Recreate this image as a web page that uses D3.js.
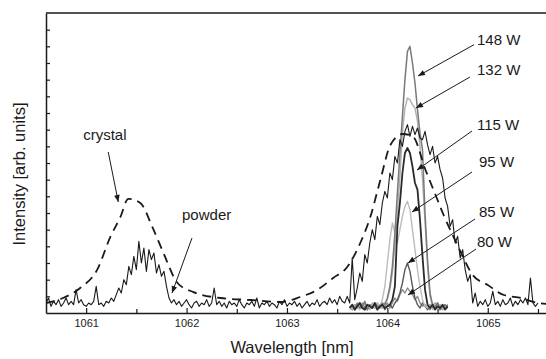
<!DOCTYPE html>
<html>
<head>
<meta charset="utf-8">
<script src="https://cdn.jsdelivr.net/npm/d3@7"></script>
<style>
  body { margin: 0; background: #fff; }
  svg { display: block; font-family: "Liberation Sans", Arial, sans-serif; }
</style>
</head>
<body>
<svg id="chart" width="546" height="359"></svg>
<script>
// crystal spectrum (dashed), [wavelength nm, intensity a.u.]
const crystal = [
  [1060.6, 0.6], [1060.77, 0.9], [1060.94, 1.5], [1061.11, 2.6], [1061.24, 4.55],
  [1061.34, 5.75], [1061.42, 6.85], [1061.54, 6.6], [1061.66, 5.15], [1061.77, 3.6],
  [1061.91, 1.8], [1062.07, 1.25], [1062.34, 0.9], [1062.64, 0.78], [1062.94, 0.66],
  [1063.13, 0.96], [1063.3, 1.38], [1063.46, 2.1], [1063.6, 2.76], [1063.73, 4.2],
  [1063.83, 5.76], [1063.93, 7.98], [1064.03, 10.08], [1064.15, 10.74], [1064.25, 10.62],
  [1064.38, 8.58], [1064.48, 7.08], [1064.56, 5.88], [1064.65, 4.68], [1064.73, 3.66],
  [1064.85, 2.28], [1065.0, 1.68], [1065.16, 1.08], [1065.33, 0.9], [1065.5, 0.6], [1065.58, 0.55]
];

// powder spectrum (solid black), sampled every 0.025 nm from 1060.6
const powderStart = 1060.6, powderStep = 0.025;
const powder = [
  0.6, 0.9, 0.4, 0.7, 0.5, 0.8, 0.4, 0.6, 0.9, 0.5,
  0.7, 0.5, 1.4, 0.6, 0.8, 0.5, 0.4, 0.6, 0.5, 0.7,
  1.6, 0.5, 0.6, 0.4, 0.7, 0.6, 0.9, 0.7, 1.1, 1.5,
  1.2, 2.0, 1.7, 2.8, 2.3, 3.4, 2.6, 4.3, 3.0, 3.9,
  2.5, 3.8, 3.2, 3.6, 2.4, 2.9, 2.2, 2.5, 1.6, 0.9,
  0.6, 0.8, 0.5, 0.7, 0.4, 0.6, 0.8, 0.5, 0.3, 0.6,
  0.7, 0.4, 0.6, 0.5, 0.8, 0.4, 0.6, 1.5, 0.5, 0.7,
  0.4, 0.6, 0.3, 0.7, 0.5, 0.6, 0.4, 0.8, 0.5, 0.3,
  0.6, 0.5, 0.7, 0.4, 0.9, 0.3, 0.6, 0.5, 0.7, 0.4,
  0.6, 0.5, 0.3, 0.7, 0.5, 0.8, 0.4, 0.6, 0.5, 0.7,
  0.4, 0.6, 0.3, 0.5, 0.7, 0.4, 0.6, 0.5, 0.8, 0.4,
  0.6, 0.7, 0.5, 0.9, 0.6, 0.8, 0.5, 1.0, 0.7, 0.6,
  1.0, 0.6, 3.3, 0.8, 1.5, 2.4, 1.9, 3.5, 3.0, 4.2,
  5.0, 4.4, 5.8, 5.3, 6.6, 7.3, 6.9, 8.4, 8.0, 9.4,
  9.0, 10.4, 10.0, 10.9, 11.3, 10.6, 11.2, 10.7, 11.1, 10.5,
  10.4, 10.9, 10.1, 9.5, 10.0, 9.0, 9.4, 8.6, 8.1, 6.9,
  6.4, 5.2, 5.6, 4.2, 4.6, 3.3, 3.8, 2.6, 1.9, 2.3,
  0.6, 1.2, 0.4, 0.7, 0.5, 0.8, 0.4, 0.6, 1.3, 0.5,
  0.7, 0.4, 0.8, 0.5, 0.6, 0.9, 0.4, 0.7, 0.5, 0.8,
  0.6, 0.9, 0.5, 2.1, 0.6, 0.4, 0.6
];

// pump power spectra, sampled every 0.025 nm from 1063.625
const powerStart = 1063.625, powerStep = 0.025;
const p80 = [
  0.3, 0.5, 0.2, 0.4, 0.3, 0.6, 0.2, 0.4, 0.5, 0.3,
  0.4, 0.2, 0.5, 0.3, 0.4, 0.6, 0.3, 0.6, 0.9, 0.7,
  1.1, 1.4, 1.2, 1.5, 1.3, 1.1, 0.8, 1.0, 0.6, 0.4,
  0.5, 0.3, 0.2, 0.4, 0.6, 0.3, 0.4, 0.2, 0.5, 0.3
];
const p85 = [
  0.4, 0.2, 0.5, 0.3, 0.6, 0.3, 0.4, 0.2, 0.5, 0.3,
  0.4, 0.6, 0.3, 0.5, 0.2, 0.4, 0.5, 0.3, 0.6, 0.8,
  1.2, 1.8, 2.6, 3.0, 2.5, 1.6, 0.9, 0.5, 0.3, 0.6,
  0.4, 0.2, 0.5, 0.3, 0.4, 0.6, 0.2, 0.4, 0.3, 0.5
];
const p95 = [
  0.2, 0.4, 0.3, 0.5, 0.2, 0.4, 0.6, 0.3, 0.5, 0.4,
  0.3, 0.6, 0.4, 0.8, 1.6, 3.0, 4.4, 5.4, 4.8, 4.2,
  5.0, 5.8, 6.4, 6.7, 6.2, 5.0, 3.8, 2.6, 1.6, 0.8,
  0.4, 0.3, 0.5, 0.2, 0.4, 0.3, 0.5, 0.2, 0.4, 0.3
];
const p115 = [
  0.3, 0.5, 0.2, 0.4, 0.6, 0.3, 0.2, 0.5, 0.4, 0.3,
  0.6, 0.2, 0.4, 0.5, 0.3, 0.4, 0.5, 0.8, 1.6, 5.2,
  6.6, 8.4, 9.6, 9.9, 9.6, 8.8, 7.8, 7.4, 5.6, 3.4,
  1.4, 0.5, 0.3, 0.5, 0.2, 0.4, 0.3, 0.5, 0.2, 0.4
];
const p132 = [
  0.4, 0.2, 0.5, 0.3, 0.6, 0.3, 0.5, 0.4, 0.2, 0.6,
  0.3, 0.5, 0.4, 0.3, 0.6, 0.8, 1.4, 2.4, 4.0, 6.0,
  8.2, 10.8, 12.3, 12.9, 12.8, 12.5, 12.3, 11.5, 10.0, 8.0,
  5.5, 2.8, 1.0, 0.4, 0.6, 0.3, 0.5, 0.2, 0.4, 0.3
];
const p148 = [
  0.3, 0.5, 0.2, 0.6, 0.3, 0.4, 0.7, 0.2, 0.5, 0.3,
  0.6, 0.4, 0.3, 0.6, 0.5, 0.9, 1.6, 2.8, 4.8, 7.2,
  9.6, 11.8, 14.0, 15.7, 16.0, 15.0, 13.8, 12.2, 10.8, 9.8,
  6.0, 3.2, 1.2, 0.5, 0.3, 0.6, 0.2, 0.4, 0.5, 0.3
];

const xTicksMajor = [1061, 1062, 1063, 1064, 1065];
const xTicksMinor = [1061.5, 1062.5, 1063.5, 1064.5, 1065.5];

// annotations: label, text anchor, arrow start, arrow tip (data coords)
const notes = [
  ["crystal", [1060.97, 10.38], [1061.22, 9.66], [1061.32, 6.66]],
  ["powder", [1061.955, 5.58], [1062.054, 4.5], [1061.855, 1.2]],
  ["148 W", [1064.893, 16.08], [1064.863, 16.1], [1064.305, 14.22]],
  ["132 W", [1064.893, 14.28], [1064.823, 14.16], [1064.285, 12.3]],
  ["115 W", [1064.893, 10.98], [1064.843, 10.92], [1064.295, 8.58]],
  ["95 W", [1064.913, 8.76], [1064.843, 8.46], [1064.245, 6.06]],
  ["85 W", [1064.913, 5.76], [1064.873, 5.64], [1064.205, 3.0]],
  ["80 W", [1064.893, 3.96], [1064.883, 3.84], [1064.205, 1.08]]
];

const svg = d3.select("#chart");
const mLeft = 46, mRight = 546, mTop = 13, mBottom = 313;

const x = d3.scaleLinear().domain([1060.6, 1065.58]).range([mLeft, mRight]);
const y = d3.scaleLinear().domain([0, 18]).range([mBottom, mTop]);

const line = d3.line().x(d => x(d[0])).y(d => y(d[1]));
const sampled = (vals, start, step) => vals.map((v, i) => [start + i * step, v]);

const defs = svg.append("defs");
defs.append("clipPath").attr("id", "clip")
  .append("rect").attr("x", mLeft).attr("y", mTop)
  .attr("width", mRight - mLeft).attr("height", mBottom - mTop);

defs.append("marker")
  .attr("id", "ah")
  .attr("viewBox", "0 0 10 10")
  .attr("refX", 10).attr("refY", 5)
  .attr("markerWidth", 8).attr("markerHeight", 7)
  .attr("orient", "auto")
  .append("path").attr("d", "M0,1 L10,5 L0,9 z").attr("fill", "#1a1a1a");

const plot = svg.append("g").attr("clip-path", "url(#clip)");

// power curves
const powers = [
  [p80, "#8a8a8a", 1.3],
  [p85, "#5a5a5a", 1.4],
  [p95, "#bdbdbd", 1.4],
  [p132, "#b0b0b0", 1.4],
  [p148, "#7a7a7a", 1.5],
  [p115, "#2a2a2a", 1.8]
];
powers.forEach(([vals, col, w]) => {
  plot.append("path")
    .datum(sampled(vals, powerStart, powerStep))
    .attr("d", line)
    .attr("fill", "none")
    .attr("stroke", col)
    .attr("stroke-width", w)
    .attr("stroke-linejoin", "round");
});

// powder
plot.append("path")
  .datum(sampled(powder, powderStart, powderStep))
  .attr("d", line)
  .attr("fill", "none")
  .attr("stroke", "#1a1a1a")
  .attr("stroke-width", 1.1)
  .attr("stroke-linejoin", "round");

// crystal
plot.append("path")
  .datum(crystal)
  .attr("d", d3.line().curve(d3.curveMonotoneX).x(d => x(d[0])).y(d => y(d[1])))
  .attr("fill", "none")
  .attr("stroke", "#1a1a1a")
  .attr("stroke-width", 1.8)
  .attr("stroke-dasharray", "9,6");

// axes
const xMinor = svg.append("g")
  .attr("transform", `translate(0,${mBottom})`)
  .call(d3.axisBottom(x).tickValues(xTicksMinor)
    .tickSizeInner(-4).tickSizeOuter(0).tickFormat(""));
xMinor.select(".domain").remove();

const xAxis = svg.append("g")
  .attr("transform", `translate(0,${mBottom})`)
  .call(d3.axisBottom(x).tickValues(xTicksMajor)
    .tickSizeInner(-5).tickSizeOuter(0).tickPadding(6).tickFormat(d3.format("d")));
xAxis.selectAll("text").attr("font-size", 11).attr("fill", "#1a1a1a")
  .attr("font-family", "'Liberation Sans', Arial, sans-serif");

svg.append("g")
  .attr("transform", `translate(${mLeft},0)`)
  .call(d3.axisLeft(y).tickValues(d3.range(1, 18)).tickSizeInner(-4).tickSizeOuter(0).tickFormat(""));

svg.selectAll(".domain").attr("stroke", "#1a1a1a").attr("stroke-width", 1.5);
svg.selectAll(".tick line").attr("stroke", "#1a1a1a").attr("stroke-width", 1.2);

svg.append("line")
  .attr("x1", mLeft).attr("x2", mRight).attr("y1", mTop).attr("y2", mTop)
  .attr("stroke", "#1a1a1a").attr("stroke-width", 1.5);

// axis titles
svg.append("text")
  .attr("x", (mLeft + mRight) / 2 - 4).attr("y", 353)
  .attr("text-anchor", "middle").attr("font-size", 16.5).attr("fill", "#1a1a1a")
  .text("Wavelength [nm]");

svg.append("text")
  .attr("transform", "translate(25,174) rotate(-90)")
  .attr("text-anchor", "middle").attr("font-size", 16.5).attr("fill", "#1a1a1a")
  .text("Intensity [arb. units]");

// annotations
const ann = svg.append("g");
notes.forEach(([label, t, a, b]) => {
  ann.append("line")
    .attr("x1", x(a[0])).attr("y1", y(a[1]))
    .attr("x2", x(b[0])).attr("y2", y(b[1]))
    .attr("stroke", "#1a1a1a").attr("stroke-width", 1)
    .attr("marker-end", "url(#ah)");
  ann.append("text")
    .attr("x", x(t[0])).attr("y", y(t[1]))
    .attr("font-size", 15).attr("fill", "#1a1a1a")
    .text(label);
});
</script>
</body>
</html>
